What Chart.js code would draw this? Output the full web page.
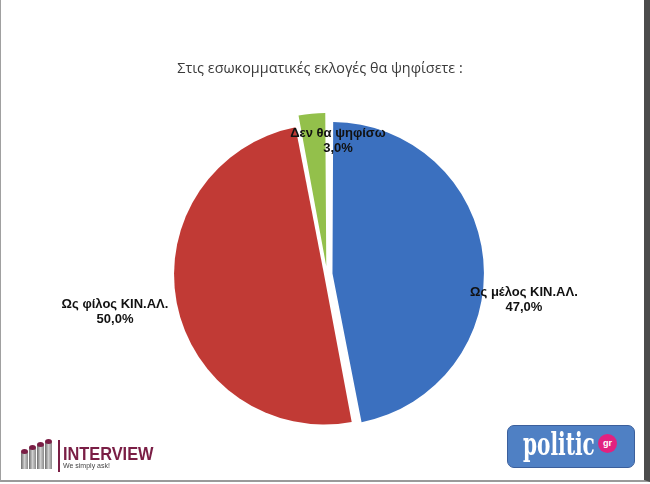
<!DOCTYPE html>
<html>
<head>
<meta charset="utf-8">
<script src="https://cdn.jsdelivr.net/npm/chart.js@4.4.1/dist/chart.umd.min.js"></script>
<style>
  html, body { margin: 0; padding: 0; background: #fff; }
  #wrap { position: relative; width: 650px; height: 484px; overflow: hidden; background: #fff; }
  #chart { position: absolute; left: 0; top: 0; }
  #frame { position: absolute; left: 0; top: 0; width: 643px; height: 480px;
           border-left: 1px solid #a0a0a0; border-bottom: 2px solid #9a9a9a; border-right: 6px solid #4c4c4c;
           pointer-events: none; }
  #title { position: absolute; left: 0; width: 640px; top: 58px; text-align: center;
           font: 14.4px "Open Sans", sans-serif; color: #3a3a3a; }
  .bar { position: absolute; width: 7px; background: linear-gradient(90deg, #6d6d6d, #cfcfcf 50%, #8a8a8a); }
  .bar i { position: absolute; left: 0; top: -3px; width: 7px; height: 5px; border-radius: 50%; background: #7a1e45; }
  #ivline { position: absolute; left: 58px; top: 440px; width: 2px; height: 32px; background: #7a1e45; }
  #ivtext { position: absolute; left: 63px; top: 443px; font: bold 19px "Liberation Sans", sans-serif; color: #7a1e45;
            transform: scaleX(0.86); transform-origin: left top; }
  #ivsub { position: absolute; left: 63px; top: 462px; font: 7px "Liberation Sans", sans-serif; color: #444; }
  #politic { position: absolute; left: 507px; top: 425px; width: 126px; height: 41px; border-radius: 7px;
             background: #4f80c4; border: 1px solid #3b5f9c; }
  #politic span { position: absolute; left: 15px; top: 0px; font: bold 31px "DejaVu Serif Condensed", "DejaVu Serif", serif;
                  color: #fff; transform: scaleX(0.72); transform-origin: left top; }
  #gr { position: absolute; left: 90px; top: 8px; width: 19px; height: 19px; border-radius: 50%; background: #e2217f;
        color: #fff; font: bold 9px "Liberation Sans", sans-serif; text-align: center; line-height: 18px; }
</style>
</head>
<body>
<div id="wrap">
  <canvas id="chart" width="650" height="484"></canvas>
  <div id="title">Στις εσωκομματικές εκλογές θα ψηφίσετε :</div>

  <div class="bar" style="left:21px; top:452px; height:17px"><i></i></div>
  <div class="bar" style="left:29px; top:448px; height:21px"><i></i></div>
  <div class="bar" style="left:37px; top:445px; height:24px"><i></i></div>
  <div class="bar" style="left:45px; top:442px; height:27px"><i></i></div>
  <div id="ivline"></div>
  <div id="ivtext">INTERVIEW</div>
  <div id="ivsub">We simply ask!</div>

  <div id="politic"><span>politic</span><div id="gr">gr</div></div>

  <div id="frame"></div>
</div>
<script>
// poll answers (share of respondents, %)
var categories = ['Ως μέλος ΚΙΝ.ΑΛ.', 'Ως φίλος ΚΙΝ.ΑΛ.', 'Δεν θα ψηφίσω'];
var values = [47.0, 50.0, 3.0];
var sliceColors = ['#3b70bf', '#c13a35', '#93c04b'];
var sliceOffsets = [22, 12, 31];

// where each label sits, relative to the outer middle of its slice
var labelNudge = [[50.6, 40], [-67.6, 10.5], [24.8, 13.3]];

var sliceLabels = {
    id: 'sliceLabels',
    afterDatasetsDraw: function(chart) {
        var ctx = chart.ctx;
        var arcs = chart.getDatasetMeta(0).data;
        ctx.save();
        ctx.font = 'bold 13px "Liberation Sans", Arial, sans-serif';
        ctx.fillStyle = '#111';
        ctx.textAlign = 'center';
        ctx.textBaseline = 'middle';
        for (var i = 0; i < arcs.length; i++) {
            var a = arcs[i];
            var mid = (a.startAngle + a.endAngle) / 2;
            var px = a.x + Math.cos(mid) * a.outerRadius + labelNudge[i][0];
            var py = a.y + Math.sin(mid) * a.outerRadius + labelNudge[i][1];
            var pct = values[i].toFixed(1).replace('.', ',') + '%';
            ctx.fillText(categories[i], px, py - 7.5);
            ctx.fillText(pct, px, py + 7.5);
        }
        ctx.restore();
    }
};

var chart = new Chart(document.getElementById('chart'), {
    type: 'pie',
    data: {
        labels: categories,
        datasets: [{
            data: values,
            backgroundColor: sliceColors,
            borderWidth: 0,
            offset: sliceOffsets
        }]
    },
    options: {
        responsive: false,
        animation: false,
        events: [],
        radius: 147,
        layout: { padding: { left: 4, right: 0, top: 100, bottom: 36 } },
        plugins: {
            legend: { display: false },
            tooltip: { enabled: false },
            title: { display: false }
        }
    },
    plugins: [sliceLabels]
});
</script>
</body>
</html>
